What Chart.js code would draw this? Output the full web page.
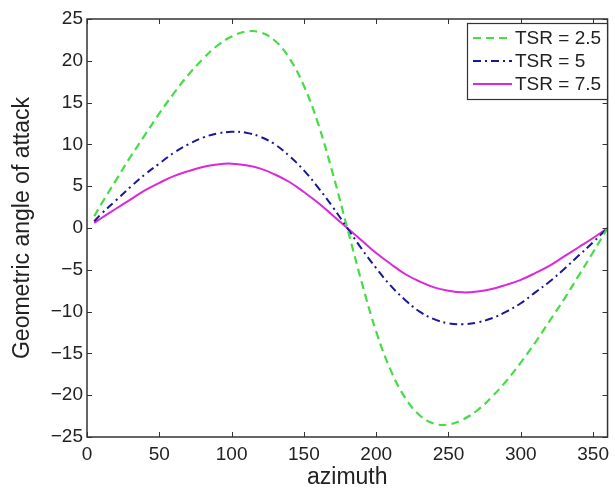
<!DOCTYPE html>
<html>
<head>
<meta charset="utf-8">
<script src="https://cdn.jsdelivr.net/npm/chart.js@4/dist/chart.umd.min.js"></script>
<style>
  body { margin: 0; background: #fff; }
  #wrap { width: 615px; height: 489px; }
</style>
</head>
<body>
<div id="wrap"><canvas id="aoa-chart"></canvas></div>
<script>
// azimuth (deg) and geometric angle of attack (deg)
const azimuth = [5, 10, 20, 30, 40, 50, 60, 70, 80, 90, 100, 110, 120, 130, 140, 150, 160, 170, 180,
                 190, 200, 210, 220, 230, 240, 250, 260, 270, 280, 290, 300, 310, 320, 330, 340, 350, 360];
const tsr25 = [1.4, 2.9, 5.7, 8.5, 11.1, 13.7, 16.1, 18.3, 20.2, 21.8, 22.9, 23.5, 23.4, 22.4, 20.3, 17.0, 12.4, 6.5, 0,
               -6.5, -12.4, -17.0, -20.3, -22.4, -23.4, -23.5, -22.9, -21.8, -20.2, -18.3, -16.1, -13.7, -11.1, -8.5, -5.7, -2.9, 0];
const tsr5 = [0.8, 1.7, 3.3, 4.9, 6.4, 7.7, 9.0, 10.0, 10.8, 11.3, 11.5, 11.4, 10.9, 10.0, 8.6, 6.9, 4.8, 2.5, 0,
              -2.5, -4.8, -6.9, -8.6, -10.0, -10.9, -11.4, -11.5, -11.3, -10.8, -10.0, -9.0, -7.7, -6.4, -4.9, -3.3, -1.7, 0];
const tsr75 = [0.6, 1.2, 2.3, 3.4, 4.5, 5.4, 6.2, 6.8, 7.3, 7.6, 7.7, 7.5, 7.1, 6.4, 5.5, 4.3, 3.0, 1.5, 0,
               -1.5, -3.0, -4.3, -5.5, -6.4, -7.1, -7.5, -7.7, -7.6, -7.3, -6.8, -6.2, -5.4, -4.5, -3.4, -2.3, -1.2, 0];
const xTicks = [0, 50, 100, 150, 200, 250, 300, 350];
const yTicks = [-25, -20, -15, -10, -5, 0, 5, 10, 15, 20, 25];
const seriesLabels = ['TSR = 2.5', 'TSR = 5', 'TSR = 7.5'];

const FONT = "'Liberation Sans', Arial, Helvetica, sans-serif";

function pts(ys) {
    return azimuth.map((x, i) => ({ x: x, y: ys[i] }));
}

// box round the plot, inward ticks on all sides, legend box in the top right
const matlabFrame = {
    id: 'matlabFrame',
    afterDraw(chart) {
        const ctx = chart.ctx;
        const a = chart.chartArea;
        const xs = chart.scales.x, ys = chart.scales.y;
        ctx.save();
        ctx.strokeStyle = '#333';
        ctx.lineWidth = 1.5;
        ctx.strokeRect(a.left, a.top, a.right - a.left, a.bottom - a.top);
        ctx.lineWidth = 1;
        const t = 5;
        ctx.beginPath();
        xTicks.forEach(v => {
            const px = Math.round(xs.getPixelForValue(v)) + 0.5;
            ctx.moveTo(px, a.bottom); ctx.lineTo(px, a.bottom - t);
            ctx.moveTo(px, a.top); ctx.lineTo(px, a.top + t);
        });
        yTicks.forEach(v => {
            const py = Math.round(ys.getPixelForValue(v)) + 0.5;
            ctx.moveTo(a.left, py); ctx.lineTo(a.left + t, py);
            ctx.moveTo(a.right, py); ctx.lineTo(a.right - t, py);
        });
        ctx.stroke();

        // legend
        const lx = 467, ly = 23, lw = 140, lh = 76;
        ctx.fillStyle = '#fff';
        ctx.fillRect(lx, ly, lw, lh);
        ctx.strokeStyle = '#333';
        ctx.lineWidth = 1.2;
        ctx.strokeRect(lx + 0.5, ly + 0.5, lw, lh);
        ctx.font = '19px ' + FONT;
        ctx.textBaseline = 'middle';
        chart.data.datasets.forEach((ds, i) => {
            const yy = ly + 15 + i * 23;
            ctx.strokeStyle = ds.borderColor;
            ctx.lineWidth = ds.borderWidth;
            ctx.setLineDash(ds.borderDash || []);
            ctx.beginPath();
            ctx.moveTo(lx + 6, yy); ctx.lineTo(lx + 45, yy);
            ctx.stroke();
            ctx.setLineDash([]);
            ctx.fillStyle = '#222';
            ctx.fillText(ds.label, lx + 48, yy + 1);
        });
        ctx.restore();
    }
};

new Chart(document.querySelector('#aoa-chart').getContext('2d'), {
    type: 'line',
    data: {
        datasets: [
            { label: seriesLabels[0], data: pts(tsr25), borderColor: 'rgb(70, 220, 70)', borderWidth: 2.2, borderDash: [8, 5] },
            { label: seriesLabels[1], data: pts(tsr5), borderColor: 'rgb(25, 25, 150)', borderWidth: 2, borderDash: [8, 4, 2, 4] },
            { label: seriesLabels[2], data: pts(tsr75), borderColor: 'rgb(220, 40, 220)', borderWidth: 2 }
        ].map(ds => Object.assign(ds, { pointRadius: 0, tension: 0.4, fill: false }))
    },
    options: {
        responsive: true,
        maintainAspectRatio: false,
        animation: false,
        layout: { padding: { top: 19, right: 2, left: 0, bottom: 0 } },
        plugins: { legend: { display: false }, tooltip: { enabled: false } },
        scales: {
            x: {
                type: 'linear', min: 0, max: 360,
                afterBuildTicks: s => { s.ticks = xTicks.map(v => ({ value: v })); },
                afterFit: s => { s.height = 52; },
                grid: { display: false, drawTicks: false },
                border: { display: false },
                ticks: { color: '#222', font: { family: FONT, size: 19 }, padding: 6, maxRotation: 0 },
                title: { display: true, text: 'azimuth', color: '#222',
                         font: { family: FONT, size: 23, lineHeight: 1 }, padding: { top: 0, bottom: 0 } }
            },
            y: {
                type: 'linear', min: -25, max: 25,
                afterBuildTicks: s => { s.ticks = yTicks.map(v => ({ value: v })); },
                afterFit: s => { s.width = 87; },
                grid: { display: false, drawTicks: false },
                border: { display: false },
                ticks: { color: '#222', font: { family: FONT, size: 19 }, padding: 4,
                         callback: v => String(v).replace('-', '\u2212') },
                title: { display: true, text: 'Geometric angle of attack', color: '#222',
                         font: { family: FONT, size: 23, lineHeight: 1 }, padding: { top: 11, bottom: 0 } }
            }
        }
    },
    plugins: [matlabFrame]
});
</script>
</body>
</html>
